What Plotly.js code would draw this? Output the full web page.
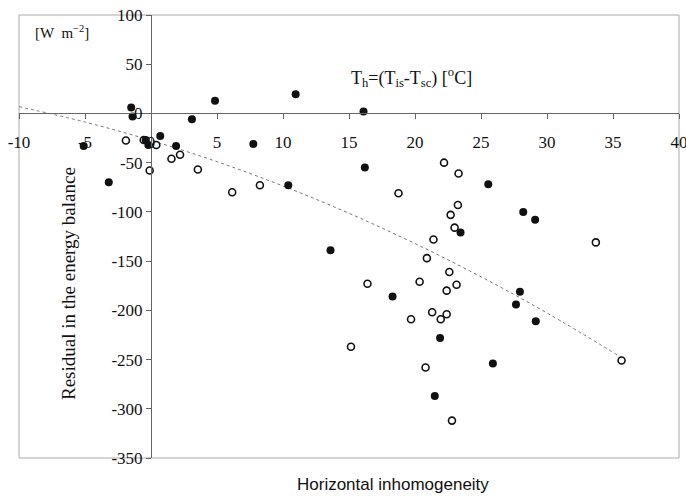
<!DOCTYPE html>
<html>
<head>
<meta charset="utf-8">
<script src="https://cdn.plot.ly/plotly-3.0.1.min.js"></script>
<style>html,body{margin:0;padding:0;background:#fff}#chart{width:686px;height:497px}</style>
</head>
<body>
<div id="chart"></div>
<script>
// Filled circles
const filledX = [-5.1, -3.2, -1.5, -1.4, -0.4, -0.2, 0.7, 1.9, 3.1, 4.85, 7.75, 10.96, 10.4, 13.6, 16.1, 16.2, 25.55, 28.2, 29.1, 23.45, 18.3, 21.9, 25.9, 27.95, 27.65, 29.15, 21.5];
const filledY = [-33, -70, 6, -3, -27, -32, -23, -33, -6, 13, -31, 19.5, -73, -139, 2, -55, -72, -100, -108, -121, -186, -228, -254, -181, -194, -211, -287];
// Open circles
const openX = [-1.9, -0.55, 0.4, -0.1, 1.55, 2.2, 3.55, 6.15, 8.25, 22.2, 23.3, 18.75, 23.25, 22.7, 23.0, 21.4, 33.7, 20.9, 22.6, 16.4, 20.35, 23.15, 22.4, 21.3, 22.4, 21.95, 19.7, 15.15, 20.8, 22.8, 35.65];
const openY = [-27.5, -27, -32, -58, -46, -42, -57, -80, -73, -50, -61, -81, -93, -103, -116, -128, -131, -147, -161, -173, -171, -174, -180, -202, -204, -209, -209, -237, -258, -312, -251];
// Dotted trend curve
const trendX = [-10, -5, 0, 5, 10, 15, 20, 25, 30, 35.6];
const trendY = [6.9, -8.7, -27.4, -49.0, -73.7, -101.4, -132.2, -165.9, -202.7, -247.5];
// Axis ticks
const xTicks = [-10, -5, 0, 5, 10, 15, 20, 25, 30, 35, 40];
const yTicks = [100, 50, 0, -50, -100, -150, -200, -250, -300, -350];

const serif = '"Liberation Serif", "Times New Roman", Times, serif';
const sans = '"Liberation Sans", Arial, Helvetica, sans-serif';

const traces = [
  {x: trendX, y: trendY, mode: 'lines', type: 'scatter', line: {color: '#777', width: 1, dash: 'dot', shape: 'spline'}, hoverinfo: 'skip'},
  {x: filledX, y: filledY, mode: 'markers', type: 'scatter', marker: {symbol: 'circle', size: 8, color: '#111'}},
  {x: openX, y: openY, mode: 'markers', type: 'scatter', marker: {symbol: 'circle-open', size: 7, color: '#111', line: {width: 1.6, color: '#111'}}}
];

const layout = {
  width: 686, height: 497,
  margin: {l: 19, r: 7, t: 15, b: 39},
  paper_bgcolor: '#fff', plot_bgcolor: '#fff',
  showlegend: false,
  font: {family: serif, color: '#111', size: 16},
  xaxis: {
    range: [-10, 40], tickvals: xTicks, ticktext: xTicks.map(String),
    anchor: 'free', position: 0.7778,
    showgrid: false, zeroline: false, showline: true, linecolor: '#666', linewidth: 1,
    ticks: 'outside', ticklen: 5, tickcolor: '#666', ticklabelstandoff: 8,
    ticklabeloverflow: 'allow',
    tickfont: {family: serif, size: 17, color: '#111'}
  },
  yaxis: {
    range: [-350, 100], tickvals: yTicks, ticktext: yTicks.map(String),
    anchor: 'free', position: 0.2,
    showgrid: false, zeroline: false, showline: true, linecolor: '#666', linewidth: 1,
    ticks: 'outside', ticklen: 5, tickcolor: '#666',
    ticklabeloverflow: 'allow',
    tickfont: {family: serif, size: 17, color: '#111'}
  },
  shapes: [
    {type: 'rect', xref: 'paper', yref: 'paper', x0: 0, x1: 1, y0: 0, y1: 1, line: {color: '#aaa', width: 1}, layer: 'below'}
  ],
  annotations: [
    {xref: 'paper', yref: 'paper', x: 0.0742, y: 0.395, xanchor: 'center', yanchor: 'middle', text: 'Residual in the energy balance', textangle: -90, showarrow: false, font: {family: serif, size: 19, color: '#111'}},
    {xref: 'paper', yref: 'paper', x: 0.5667, y: -0.06, xanchor: 'center', yanchor: 'middle', text: 'Horizontal inhomogeneity', showarrow: false, font: {family: sans, size: 17, color: '#111'}},
    {xref: 'paper', yref: 'paper', x: 0.0652, y: 0.9617, xanchor: 'center', yanchor: 'middle', text: '[W  m<sup>−2</sup>]', showarrow: false, font: {family: serif, size: 15, color: '#111'}},
    {xref: 'paper', yref: 'paper', x: 0.594, y: 0.858, xanchor: 'center', yanchor: 'middle', text: 'T<sub>h</sub>=(T<sub>is</sub>-T<sub>sc</sub>) [<sup>o</sup>C]', showarrow: false, font: {family: serif, size: 18, color: '#111'}}
  ]
};

Plotly.newPlot('chart', traces, layout, {staticPlot: true, displayModeBar: false});
</script>
</body>
</html>
